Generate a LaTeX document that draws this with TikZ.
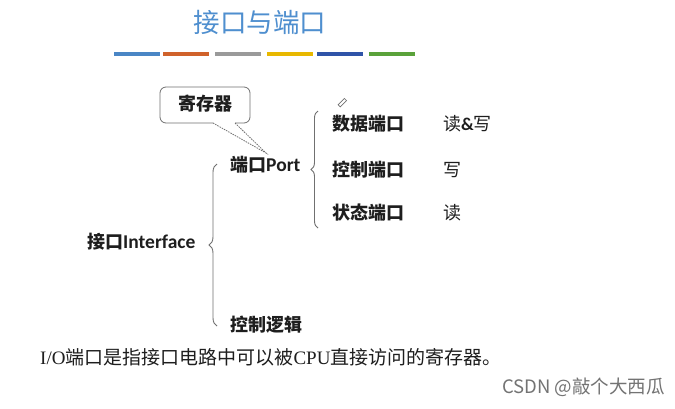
\documentclass[tikz,border=0pt]{standalone}
\usepackage{fontspec}
\setmainfont{Liberation Serif}
\newfontfamily\cjk{Noto Sans CJK SC}
\newfontfamily\lat{Carlito}
\usetikzlibrary{decorations.pathreplacing}
\definecolor{titleblue}{HTML}{4F8FCF}
\definecolor{barA}{HTML}{4A86C5}
\definecolor{barB}{HTML}{D0622B}
\definecolor{barC}{HTML}{9A9A9A}
\definecolor{barD}{HTML}{E8B800}
\definecolor{barE}{HTML}{2F54A8}
\definecolor{barF}{HTML}{5AA23A}
\definecolor{ink}{HTML}{1E1E1E}
\definecolor{braceg}{HTML}{707070}
\tikzset{
  lbl/.style={inner sep=0pt, anchor=west, text=ink, font=\cjk\bfseries\fontsize{18}{18}\selectfont},
  val/.style={inner sep=0pt, anchor=west, text=ink, font=\cjk\fontsize{18}{18}\selectfont},
  bar/.style={line width=4pt},
  curly/.style={draw=braceg, line width=0.9pt, decorate, decoration={brace, amplitude=8pt}},
}
\begin{document}
\begin{tikzpicture}[x=1pt, y=-1pt]
\useasboundingbox (0,0) rectangle (675,408);
\fill[white] (0,0) rectangle (675,408);
% title
\node[inner sep=0pt, text=titleblue, font=\cjk\fontsize{26.5}{26.5}\selectfont] (title) at (260,22) {接口与端口};
% colour bars
\foreach \c/\a in {barA/114, barB/163, barC/215, barD/267, barE/317, barF/369}
  \draw[bar, \c] (\a,54) -- ++(46,0);
% callout
\node[inner sep=0pt, text=ink, font=\cjk\bfseries\fontsize{18}{18}\selectfont] (reg) at (205,104) {寄存器};
\coordinate (tl) at (213,123);
\coordinate (tr) at (235,123);
\coordinate (tip) at (266,153);
\draw[braceg, line width=0.8pt, rounded corners=6pt] (tl) -- (160,123) -- (160,87) -- (250,87) -- (250,123) -- (tr);
\draw[braceg, line width=0.8pt, dashed, dash pattern=on 1.5pt off 1pt] (tl) -- (tip) -- (tr);
% left items
\node[lbl] (iface) at (87,242) {接口{\lat\bfseries\fontsize{19.5}{19.5}\selectfont Interface}};
\node[lbl] (port) at (230,165) {端口{\lat\bfseries\fontsize{19.5}{19.5}\selectfont Port}};
\node[lbl] (ctl) at (230,325) {控制逻辑};
% braces
\coordinate (b1s) at (217,326);
\coordinate (b1e) at (217,164);
\draw[curly] (b1s) -- (b1e);
\coordinate (b2s) at (318,228);
\coordinate (b2e) at (318,111);
\draw[curly, decoration={brace, amplitude=7pt}] (b2s) -- (b2e);
% ports
\node[lbl] (dp) at (332,124) {数据端口};
\node[lbl] (cp) at (332,170) {控制端口};
\node[lbl] (sp) at (332,213) {状态端口};
\node[val] (dv) at (443,124) {读{\lat\bfseries\&}写};
\node[val] (cv) at (443,170) {写};
\node[val] (sv) at (443,213) {读};
% pencil mark
\draw[braceg, line width=0.6pt, rotate around={45:(342,103)}] (338,101.5) rectangle (347,104.5);
% sentence
\node[inner sep=0pt, anchor=west, text=ink, font=\fontsize{19}{19}\selectfont] (note) at (40,357)
  {I/O{\cjk 端口是指接口电路中可以被}CPU{\cjk 直接访问的寄存器。}};
% watermark
\node[inner sep=0pt, anchor=east, text=black!55, font=\cjk\fontsize{18.5}{18.5}\selectfont] (wm) at (665,387) {CSDN @敲个大西瓜};
\end{tikzpicture}
\end{document}
